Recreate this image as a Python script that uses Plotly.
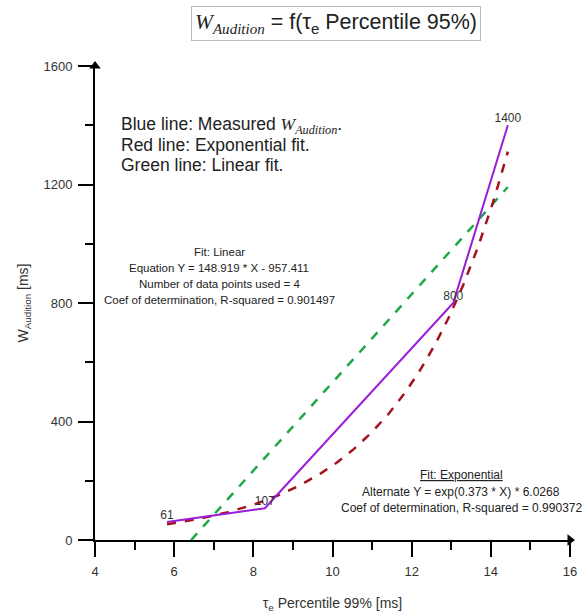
import numpy as np
import plotly.graph_objects as go

# Measured data
tau_e = [5.82, 8.29, 13.05, 14.43]
w_audition = [61, 107, 800, 1400]
point_labels = ["61", "107", "800", "1400"]

# Fit coefficients (as printed on the chart)
lin_slope = 148.919
lin_intercept = -957.411
exp_rate = 0.373
exp_scale = 6.0268

x_ticks = [4, 6, 8, 10, 12, 14, 16]
y_ticks = [0, 400, 800, 1200, 1600]

FONT = "Arial, 'Liberation Sans', sans-serif"
SERIF = "'Times New Roman', 'Liberation Serif', serif"

W, H = 588, 613
ML, MR, MT, MB = 95, 18, 66, 73
PH = H - MT - MB


def py(pix):
    return 1 - (pix - MT) / PH


def px(pix):
    return (pix - ML) / (W - ML - MR)


fit_x = np.linspace(min(tau_e), max(tau_e), 200)
lin_y = lin_slope * fit_x + lin_intercept
exp_y = np.exp(exp_rate * fit_x) * exp_scale

fig = go.Figure()

fig.add_trace(go.Scatter(x=fit_x, y=lin_y, mode="lines",
                         line=dict(color="#1fa84a", width=2.5, dash="dash"),
                         hoverinfo="skip"))
fig.add_trace(go.Scatter(x=fit_x, y=exp_y, mode="lines",
                         line=dict(color="#a3121e", width=2.5, dash="dash"),
                         hoverinfo="skip"))
fig.add_trace(go.Scatter(x=tau_e, y=w_audition, mode="lines+text",
                         line=dict(color="#9a1bd8", width=2),
                         text=point_labels, textposition="top center",
                         textfont=dict(family=FONT, size=12, color="#333333"),
                         cliponaxis=False))

# axis arrowheads
fig.add_trace(go.Scatter(x=[4], y=[1600], mode="markers",
                         marker=dict(symbol="triangle-up", size=10, color="black"),
                         cliponaxis=False, hoverinfo="skip"))
fig.add_trace(go.Scatter(x=[16], y=[0], mode="markers",
                         marker=dict(symbol="triangle-right", size=10, color="black"),
                         cliponaxis=False, hoverinfo="skip"))

fig.update_layout(
    width=W, height=H,
    margin=dict(l=ML, r=MR, t=MT, b=MB),
    paper_bgcolor="white", plot_bgcolor="white",
    showlegend=False,
    font=dict(family=FONT, size=12, color="#333333"),
)

fig.update_xaxes(
    range=[4, 16], tickvals=x_ticks, ticktext=[str(v) for v in x_ticks],
    showgrid=False, zeroline=False, automargin=False,
    showline=True, linecolor="black", linewidth=2,
    ticks="outside", ticklen=15, tickwidth=2, tickcolor="black",
    ticklabelstandoff=3,
    minor=dict(ticks="outside", ticklen=8, tickwidth=2, tickcolor="black", dtick=1, showgrid=False),
    tickfont=dict(family=FONT, size=13, color="#333333"),
    title=dict(text="τ<sub>e</sub> Percentile 99% [ms]",
               font=dict(family=FONT, size=14, color="#333333"), standoff=22),
)
fig.update_yaxes(
    range=[0, 1600], tickvals=y_ticks, ticktext=[str(v) for v in y_ticks],
    showgrid=False, zeroline=False, automargin=False,
    showline=True, linecolor="black", linewidth=2,
    ticks="outside", ticklen=15, tickwidth=2, tickcolor="black",
    ticklabelstandoff=3,
    minor=dict(ticks="outside", ticklen=8, tickwidth=2, tickcolor="black", dtick=200, showgrid=False),
    tickfont=dict(family=FONT, size=13, color="#333333"),
    title=dict(text="W<sub>Audition</sub> [ms]",
               font=dict(family=FONT, size=14, color="#333333"), standoff=12),
)

# Title box
fig.add_annotation(
    xref="paper", yref="paper", x=px(336), y=py(24), xanchor="center", yanchor="middle",
    text=f"<span style=\"font-family:{SERIF}\"><i>W<sub>Audition</sub></i></span> = f(τ<sub>e</sub> Percentile 95%)",
    showarrow=False, font=dict(family=FONT, size=21.5, color="#222222"),
    bordercolor="#bbbbbb", borderwidth=1, borderpad=3, bgcolor="white",
)

# Legend-like text, one line each
legend_lines = [
    (f"Blue line: Measured <span style=\"font-family:{SERIF}\"><i>W<sub>Audition</sub></i></span>.", 125),
    ("Red line: Exponential fit.", 145),
    ("Green line: Linear fit.", 165),
]
for txt, ypix in legend_lines:
    fig.add_annotation(
        xref="paper", yref="paper", x=px(119), y=py(ypix), xanchor="left", yanchor="middle",
        text=txt, align="left", showarrow=False,
        font=dict(family=FONT, size=17.5, color="#222222"),
    )

# Linear fit text
lin_lines = [
    ("Fit: Linear", 252),
    ("Equation Y = 148.919 * X - 957.411", 268),
    ("Number of data points used = 4", 284),
    ("Coef of determination, R-squared = 0.901497", 300),
]
for txt, ypix in lin_lines:
    fig.add_annotation(
        xref="paper", yref="paper", x=px(219), y=py(ypix), xanchor="center", yanchor="middle",
        text=txt, showarrow=False, font=dict(family=FONT, size=11.5, color="#222222"),
    )

# Exponential fit text
exp_lines = [
    ("<u>Fit: Exponential</u>", 475),
    ("Alternate Y = exp(0.373 * X) * 6.0268", 492),
    ("Coef of determination, R-squared = 0.990372", 508),
]
for txt, ypix in exp_lines:
    fig.add_annotation(
        xref="paper", yref="paper", x=px(461), y=py(ypix), xanchor="center", yanchor="middle",
        text=txt, showarrow=False, font=dict(family=FONT, size=12, color="#222222"),
    )

fig.write_html("out.html")
